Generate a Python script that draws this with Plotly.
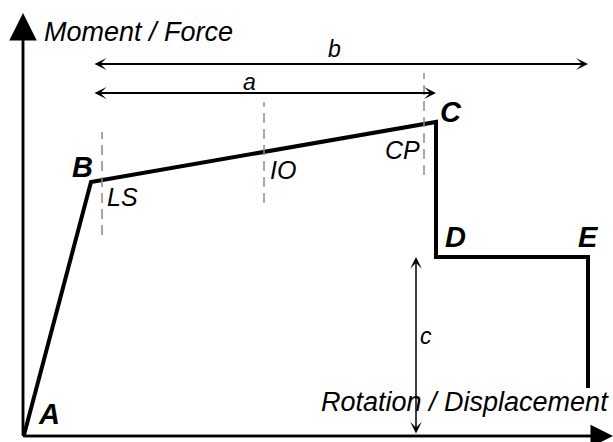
import plotly.graph_objects as go

# backbone curve (generalized force-deformation), units = arbitrary schematic units
rotation = [1, 68, 413, 413, 565, 565]
moment = [1, 254, 314, 179, 179, 48]
point_names = ["A", "B", "C", "D", "E"]

# acceptance criteria (dashed markers)
levels = ["LS", "IO", "CP"]
level_rot = [79, 241, 401]
level_low = [201, 233, 261]
level_high = [304, 334, 363]

# dimension arrows a, b, c
dim_a = [70, 413, 343]   # x0, x1, y
dim_b = [70, 565, 372]
dim_c = [393, 1, 179]    # x, y0, y1

FONT = "Liberation Sans, Arial, Helvetica, sans-serif"

fig = go.Figure()

fig.add_trace(go.Scatter(x=rotation, y=moment, mode="lines",
                         line=dict(color="black", width=4), hoverinfo="skip"))

for i, lv in enumerate(levels):
    fig.add_trace(go.Scatter(x=[level_rot[i], level_rot[i]], y=[level_low[i], level_high[i]],
                             mode="lines", line=dict(color="#8c8c8c", width=1.5, dash="10px,6px"),
                             hoverinfo="skip"))

anns = []

# axes with arrowheads
anns.append(dict(x=0, y=423, ax=0, ay=0, xref="x", yref="y", axref="x", ayref="y",
                 text="", showarrow=True, arrowhead=2, arrowsize=2.2, arrowwidth=2.5,
                 arrowcolor="black"))
anns.append(dict(x=590, y=0, ax=0, ay=0, xref="x", yref="y", axref="x", ayref="y",
                 text="", showarrow=True, arrowhead=2, arrowsize=1.8, arrowwidth=2.5,
                 arrowcolor="black"))

# dimension arrows
anns.append(dict(x=dim_a[1], y=dim_a[2], ax=dim_a[0], ay=dim_a[2], xref="x", yref="y",
                 axref="x", ayref="y", text="", showarrow=True, arrowhead=3, startarrowhead=3,
                 arrowside="end+start", arrowsize=1, startarrowsize=1, arrowwidth=2,
                 arrowcolor="black"))
anns.append(dict(x=dim_b[1], y=dim_b[2], ax=dim_b[0], ay=dim_b[2], xref="x", yref="y",
                 axref="x", ayref="y", text="", showarrow=True, arrowhead=3, startarrowhead=3,
                 arrowside="end+start", arrowsize=1, startarrowsize=1, arrowwidth=2,
                 arrowcolor="black"))
anns.append(dict(x=dim_c[0], y=dim_c[2], ax=dim_c[0], ay=dim_c[1], xref="x", yref="y",
                 axref="x", ayref="y", text="", showarrow=True, arrowhead=3, startarrowhead=3,
                 arrowside="end+start", arrowsize=1.3, startarrowsize=1.3, arrowwidth=1.5,
                 arrowcolor="black"))

def label(txt, x, y, size, bold=False, xanchor="center"):
    anns.append(dict(x=x, y=y, xref="x", yref="y", text=txt, showarrow=False,
                     xanchor=xanchor, yanchor="middle",
                     font=dict(family=FONT, size=size, color="black", style="italic",
                               weight="bold" if bold else "normal")))

label("Moment / Force", 19, 404, 27, xanchor="left")
label("Rotation / Displacement", 588, 34, 27, xanchor="right")

pt_pos = [(26, 22), (59, 269), (428, 324), (432, 199), (565, 199)]
for name, (px, py) in zip(point_names, pt_pos):
    label(name, px, py, 29, bold=True)

lv_pos = [(99, 239), (260, 266), (379, 286)]
for name, (px, py) in zip(levels, lv_pos):
    label(name, px, py, 25)

label("a", 226, 354, 23)
label("b", 311, 387, 23)
label("c", 403, 100, 23)

fig.update_layout(
    width=613, height=442,
    margin=dict(l=0, r=0, t=0, b=0),
    paper_bgcolor="white", plot_bgcolor="white",
    showlegend=False,
    annotations=anns,
    xaxis=dict(range=[-23, 590], visible=False, fixedrange=True),
    yaxis=dict(range=[-6, 436], visible=False, fixedrange=True),
)
fig.add_shape(type="line", x0=0, y0=0, x1=0, y1=405, xref="x", yref="y",
              line=dict(color="black", width=2.5))
fig.add_shape(type="line", x0=0, y0=0, x1=575, y1=0, xref="x", yref="y",
              line=dict(color="black", width=2.5))

# drop the default body margin so the figure fills the window
fig.write_html("out.html", config={"displayModeBar": False},
               post_script="document.body.style.margin='0px';document.body.style.overflow='hidden';")
